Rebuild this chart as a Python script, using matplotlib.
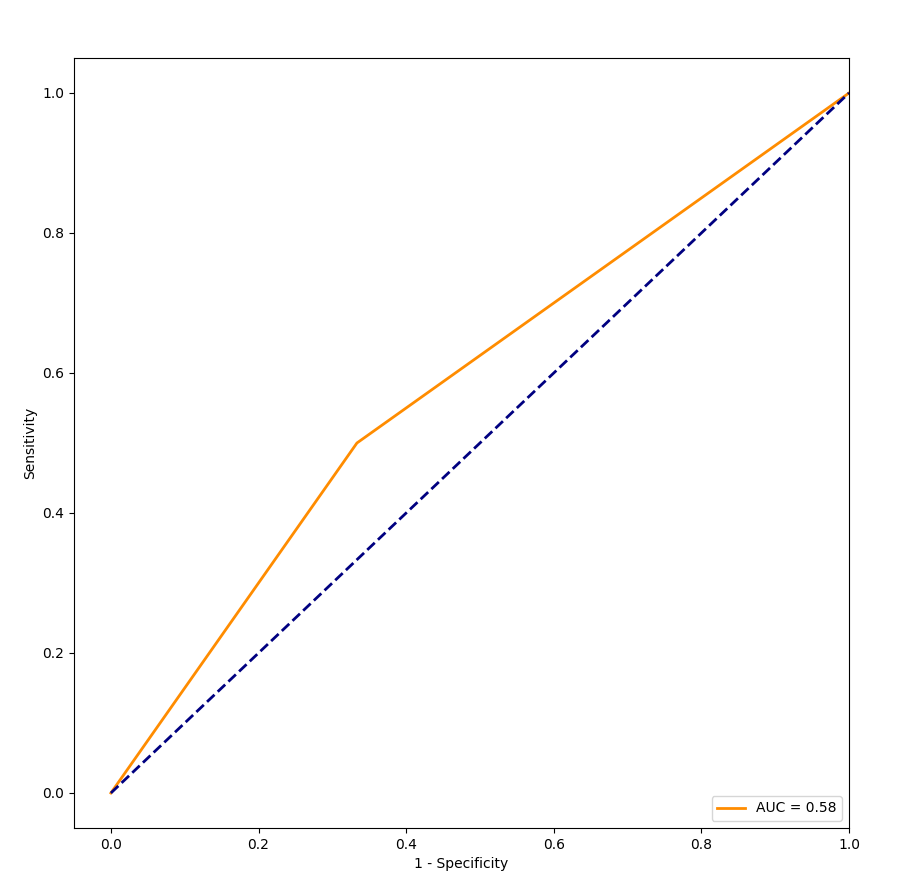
import matplotlib
matplotlib.use("Agg")
import matplotlib.pyplot as plt

fpr = [0.0, 1 / 3, 1.0]
tpr = [0.0, 0.5, 1.0]
roc_auc = 0.58
chance = [0.0, 1.0]

fig = plt.figure(figsize=(9.1, 8.81), dpi=100)
ax = fig.add_axes([74 / 910, 53 / 881, 775 / 910, 770 / 881])
ax.plot(fpr, tpr, color="darkorange", lw=2, label="AUC = %0.2f" % roc_auc)
ax.plot(chance, chance, color="navy", lw=2, linestyle="--")
ax.set_xlim(-0.05, 1.0)
ax.set_ylim(-0.05, 1.05)
ax.set_xlabel("1 - Specificity")
ax.set_ylabel("Sensitivity")
ax.legend(loc="lower right")
fig.savefig("out.png", dpi=100)
